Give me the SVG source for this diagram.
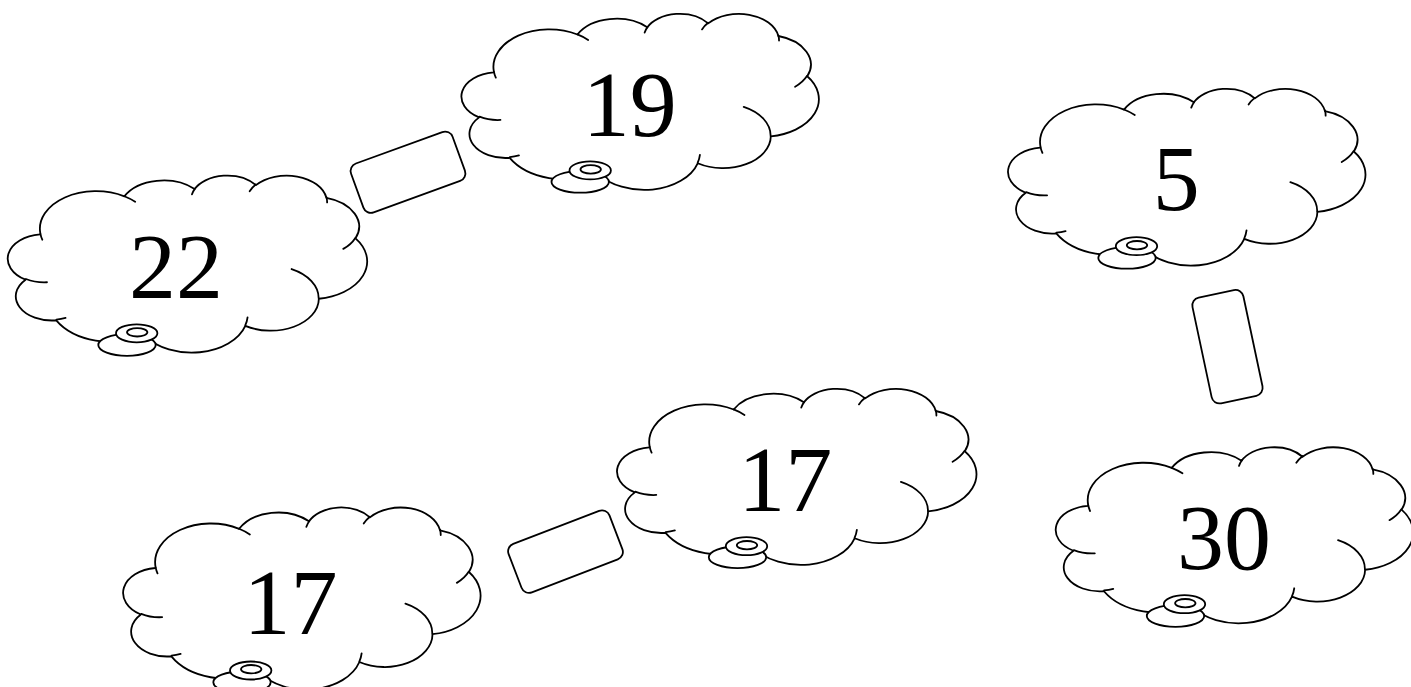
<svg xmlns="http://www.w3.org/2000/svg" xmlns:xlink="http://www.w3.org/1999/xlink" width="1411" height="687" viewBox="0 0 1411 687">
<style>
.cl{fill:#fff;stroke:#000;stroke-width:1.8;stroke-linejoin:round}
.cd{fill:none;stroke:#000;stroke-width:1.8;stroke-linecap:round}
.disc{fill:#fff;stroke:#000;stroke-width:1.8}
.lbl{font-family:"Liberation Serif","Times New Roman",serif;font-size:94px;fill:#000;text-anchor:middle}
.edge{fill:#fff;stroke:#000;stroke-width:1.8}
</style>
<defs>
<path id="cloudShape" vector-effect="non-scaling-stroke" d="M3900,14370 A6753,9190 0 0 1 14005,5202 A5333,7267 0 0 1 22456,3429 A4365,5945 0 0 1 29832,2474 A4857,6595 0 0 1 38316,5571 A5333,7273 0 0 1 41816,15455 A6775,9220 0 0 1 37405,30203 A5785,7867 0 0 1 28556,36813 A6752,9215 0 0 1 16481,39266 A7720,10543 0 0 1 5805,35470 A4360,5918 0 0 1 2114,25548 A4345,5945 0 0 1 3864,14504 Z"/>
<path id="cloudLines" vector-effect="non-scaling-stroke" d="M4693,26177 A4345,5945 0 0 1 2160,25380 M6928,34899 A4360,5918 0 0 1 5820,35281 M16478,39090 A6752,9215 0 0 1 15810,37349 M28827,34751 A6752,9215 0 0 1 28560,36660 M34129,22954 A5785,7867 0 0 1 37381,30090 M41798,15354 A5333,7273 0 0 1 40349,18031 M38324,5426 A4857,6595 0 0 1 38400,6690 M29078,3952 A4857,6595 0 0 1 29821,2337 M22141,4720 A4365,5945 0 0 1 22500,3331 M14000,5192 A6753,9190 0 0 1 15301,6541 M4127,15789 A6753,9190 0 0 1 3900,14370"/>
</defs>

<g id="connectors">
<rect class="edge" x="-54" y="-26" width="108" height="52" rx="8" transform="translate(408,172.2) rotate(-20)"/>
<rect class="edge" x="-54" y="-26" width="108" height="52" rx="8" transform="translate(1227.5,346.7) rotate(78)"/>
<rect class="edge" x="-54" y="-26" width="108" height="52" rx="8" transform="translate(565.5,551.6) rotate(-21)"/>
</g>

<g id="node-22">
<g transform="translate(8,175) scale(0.0083102,0.0040972)"><use xlink:href="#cloudShape" class="cl"/><use xlink:href="#cloudLines" class="cd"/></g>
<ellipse class="disc" cx="127" cy="345" rx="28.7" ry="10.8"/>
<ellipse class="disc" cx="136.7" cy="333.3" rx="20.7" ry="9"/>
<ellipse class="disc" cx="137.2" cy="332.3" rx="10.2" ry="4.2"/>
<text class="lbl" x="176" y="298.3">22</text>
</g>

<g id="node-19">
<g transform="translate(461.7,13.3) scale(0.0082639,0.0040741)"><use xlink:href="#cloudShape" class="cl"/><use xlink:href="#cloudLines" class="cd"/></g>
<ellipse class="disc" cx="580.2" cy="181.9" rx="28.7" ry="10.8"/>
<ellipse class="disc" cx="590.2" cy="170.4" rx="20.7" ry="9"/>
<ellipse class="disc" cx="590.7" cy="169.4" rx="10.2" ry="4.2"/>
<text class="lbl" x="629.7" y="136">19</text>
</g>

<g id="node-5">
<g transform="translate(1008.3,88.3) scale(0.0082639,0.0040903)"><use xlink:href="#cloudShape" class="cl"/><use xlink:href="#cloudLines" class="cd"/></g>
<ellipse class="disc" cx="1127" cy="257.9" rx="28.7" ry="10.8"/>
<ellipse class="disc" cx="1136.5" cy="246.2" rx="20.7" ry="9"/>
<ellipse class="disc" cx="1137" cy="245.2" rx="10.2" ry="4.2"/>
<text class="lbl" x="1176.3" y="210.3">5</text>
</g>

<g id="node-30">
<g transform="translate(1056,446.7) scale(0.0082639,0.0040741)"><use xlink:href="#cloudShape" class="cl"/><use xlink:href="#cloudLines" class="cd"/></g>
<ellipse class="disc" cx="1175.5" cy="616" rx="28.7" ry="10.8"/>
<ellipse class="disc" cx="1184.5" cy="604.2" rx="20.7" ry="9"/>
<ellipse class="disc" cx="1185.3" cy="603.2" rx="10.2" ry="4.2"/>
<text class="lbl" x="1224" y="569.2">30</text>
</g>

<g id="node-17a">
<g transform="translate(617.3,388.3) scale(0.0083102,0.0040741)"><use xlink:href="#cloudShape" class="cl"/><use xlink:href="#cloudLines" class="cd"/></g>
<ellipse class="disc" cx="737.5" cy="557.3" rx="28.7" ry="10.8"/>
<ellipse class="disc" cx="746.5" cy="546.2" rx="20.7" ry="9"/>
<ellipse class="disc" cx="747" cy="545.2" rx="10.2" ry="4.2"/>
<text class="lbl" x="785.3" y="510.5">17</text>
</g>

<g id="node-17b">
<g transform="translate(123.4,506.9) scale(0.0082639,0.0042130)"><use xlink:href="#cloudShape" class="cl"/><use xlink:href="#cloudLines" class="cd"/></g>
<ellipse class="disc" cx="242" cy="682.3" rx="28.7" ry="10.8"/>
<ellipse class="disc" cx="250.7" cy="670.5" rx="20.7" ry="9"/>
<ellipse class="disc" cx="251.2" cy="669.2" rx="10.2" ry="4.2"/>
<text class="lbl" x="290.5" y="634">17</text>
</g>
</svg>
